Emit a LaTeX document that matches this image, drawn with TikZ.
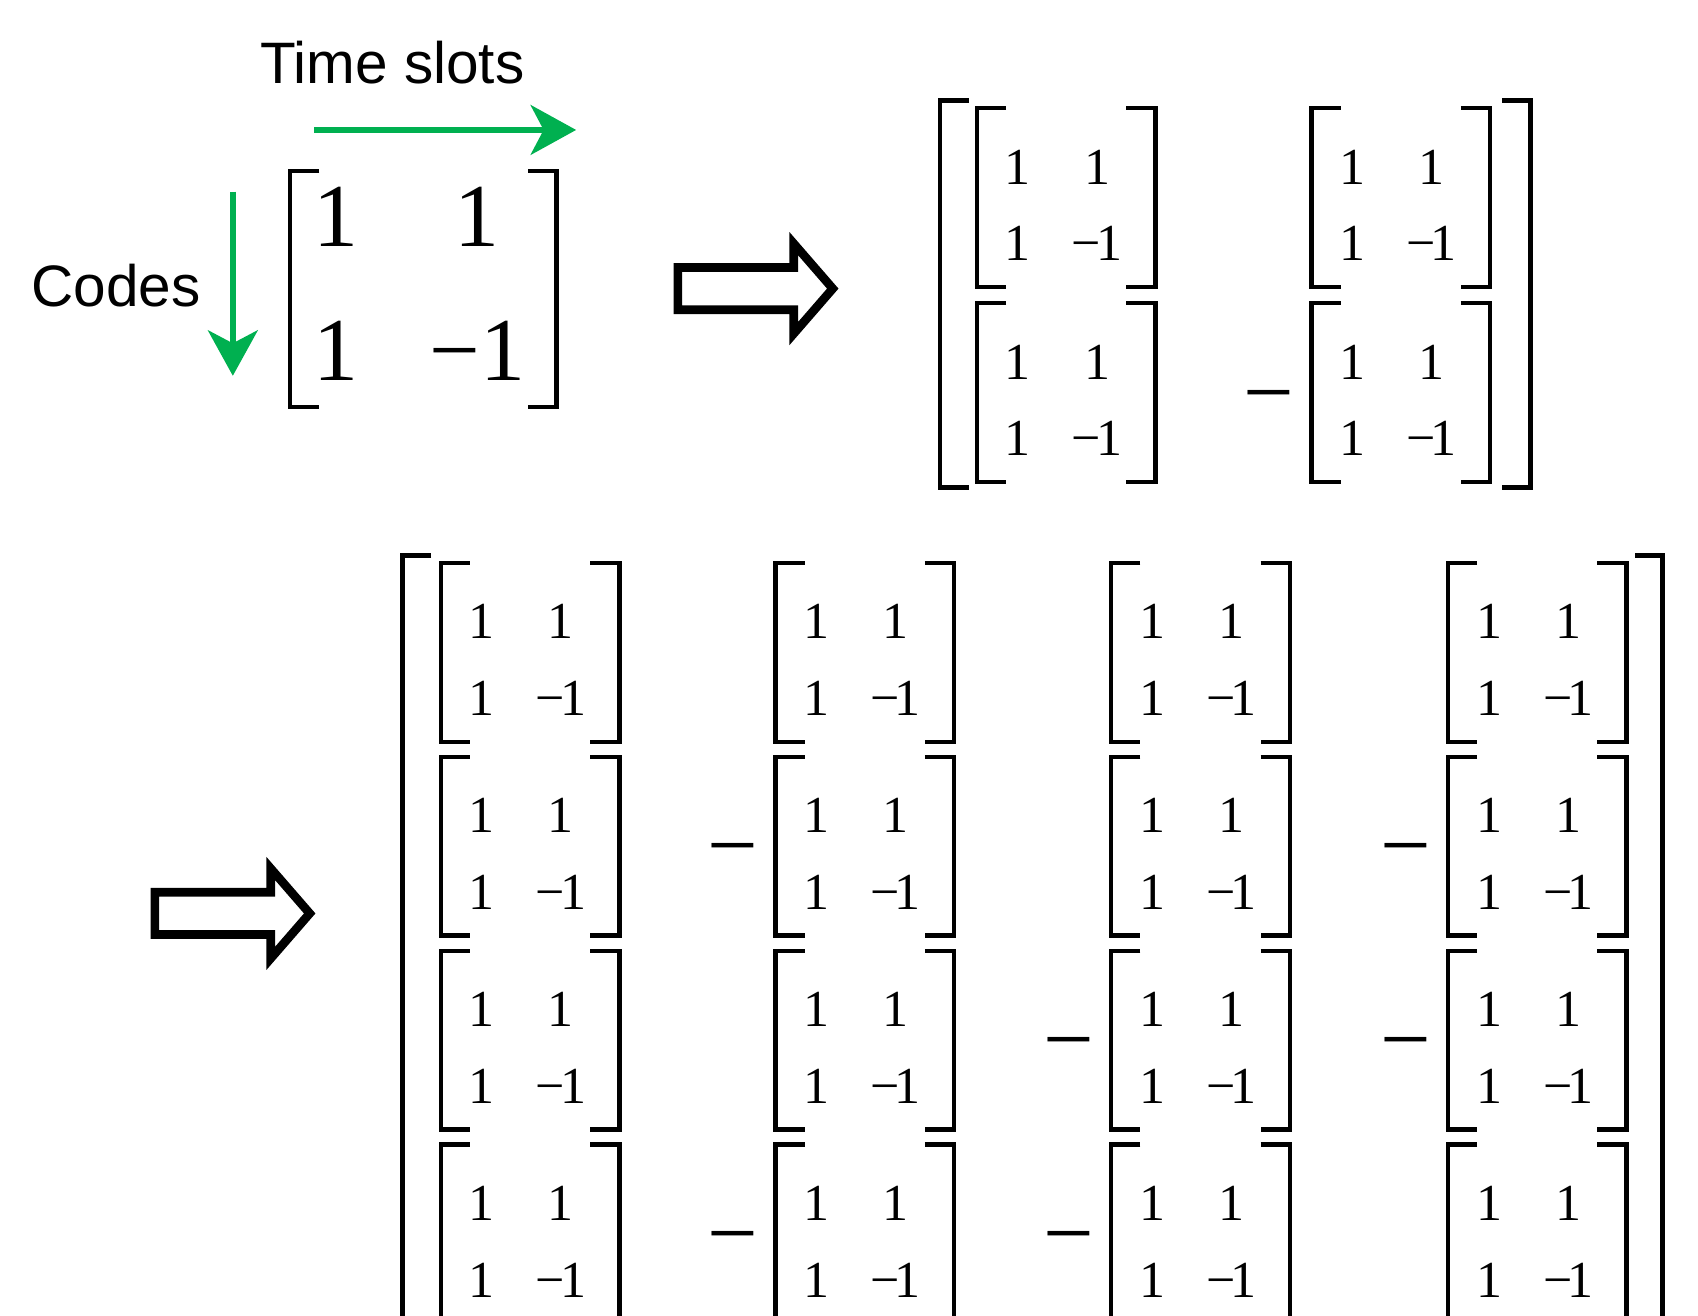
\documentclass[tikz,border=0pt]{standalone}
\usepackage{fontspec}
\setmainfont{Liberation Serif}
\newfontfamily\labelfont{Liberation Sans}
\usetikzlibrary{arrows.meta}
\definecolor{codegreen}{RGB}{0,176,80}

\tikzset{
  brk/.style={line width=4pt, line join=miter, line cap=butt},
  outerbrk/.style={line width=4.5pt, line join=miter, line cap=butt},
  ent/.style={inner sep=0pt, anchor=base, font=\fontsize{48}{48}\selectfont},
  bigent/.style={inner sep=0pt, anchor=base, font=\fontsize{83}{83}\selectfont},
  sgn/.style={inner sep=0pt, anchor=base, font=\fontsize{83}{83}\selectfont},
  lbl/.style={inner sep=0pt, anchor=base west, font=\labelfont\fontsize{54}{54}\selectfont},
  garrow/.style={draw=codegreen, line width=5pt,
    -{Stealth[length=42pt,width=46pt,inset=12pt]}},
  hollow/.style={line width=8pt, line join=miter},
  % 2x2 Hadamard block: brackets and entries
  pics/hmat/.style={code={
    \draw[brk] (27,0) -- (0,0) -- (0,165) -- (27,165);
    \draw[brk] (138,0) -- (165,0) -- (165,165) -- (138,165);
    \node[ent] (-a) at (38,70) {1};
    \node[ent] (-b) at (111,70) {1};
    \node[ent] (-c) at (38,141) {1};
    \node[ent] (-d) at (111,141) {−\kern-0.1em1};
  }},
  % outlined block arrow
  pics/blockarrow/.style={code={
    \draw[hollow] (0,0) -- (107,0) -- (107,-22) -- (143,19.5) -- (107,61)
      -- (107,39) -- (0,39) -- cycle;
  }}
}

\begin{document}
\begin{tikzpicture}[x=1pt,y=-1pt]
\useasboundingbox (0,0) rectangle (1568,1215);
\clip (0,0) rectangle (1568,1215);

% axis labels and arrows
\node[lbl] (tslots) at (240,77) {Time slots};
\node[lbl] (codes) at (29,283) {Codes};
\coordinate (ts0) at (290,120);
\coordinate (ts1) at (532,120);
\draw[garrow] (ts0) -- (ts1);
\coordinate (cd0) at (215,177);
\coordinate (cd1) at (215,347);
\draw[garrow] (cd0) -- (cd1);

% H2
\draw[brk] (295,158) -- (268,158) -- (268,376) -- (295,376);
\draw[brk] (488,158) -- (514,158) -- (514,376) -- (488,376);
\node[bigent] (h11) at (310,228) {1};
\node[bigent] (h12) at (440,228) {1};
\node[bigent] (h21) at (310,351) {1};
\node[bigent] (h22) at (441,351) {−1};

% first expansion arrow
\pic (arrA) at (626,247) {blockarrow};

% H4 built from H2 blocks
\draw[outerbrk] (895,93) -- (868,93) -- (868,450) -- (895,450);
\draw[outerbrk] (1387,93) -- (1413,93) -- (1413,450) -- (1387,450);
\pic (q11) at (902,100) {hmat};
\pic (q12) at (1211,100) {hmat};
\pic (q21) at (902,280) {hmat};
\pic (q22) at (1211,280) {hmat};
\node[sgn] (sq22) at (1172,390) {−};

% second expansion arrow
\pic (arrB) at (143,824) {blockarrow};

% H8 built from H2 blocks
\draw[outerbrk] (398,513) -- (372,513) -- (372,1240);
\draw[outerbrk] (1510,513) -- (1535,513) -- (1535,1240);
\foreach \r/\t in {1/520,2/699,3/878,4/1057}{
  \foreach \c/\l in {1/407,2/716,3/1026,4/1337}{
    \pic (b\r\c) at (\l,\t) {hmat};
  }
}
\node[sgn] (sb22) at (677,808) {−};
\node[sgn] (sb24) at (1298,808) {−};
\node[sgn] (sb33) at (987,988) {−};
\node[sgn] (sb34) at (1298,988) {−};
\node[sgn] (sb42) at (677,1167) {−};
\node[sgn] (sb43) at (987,1167) {−};
\end{tikzpicture}
\end{document}
